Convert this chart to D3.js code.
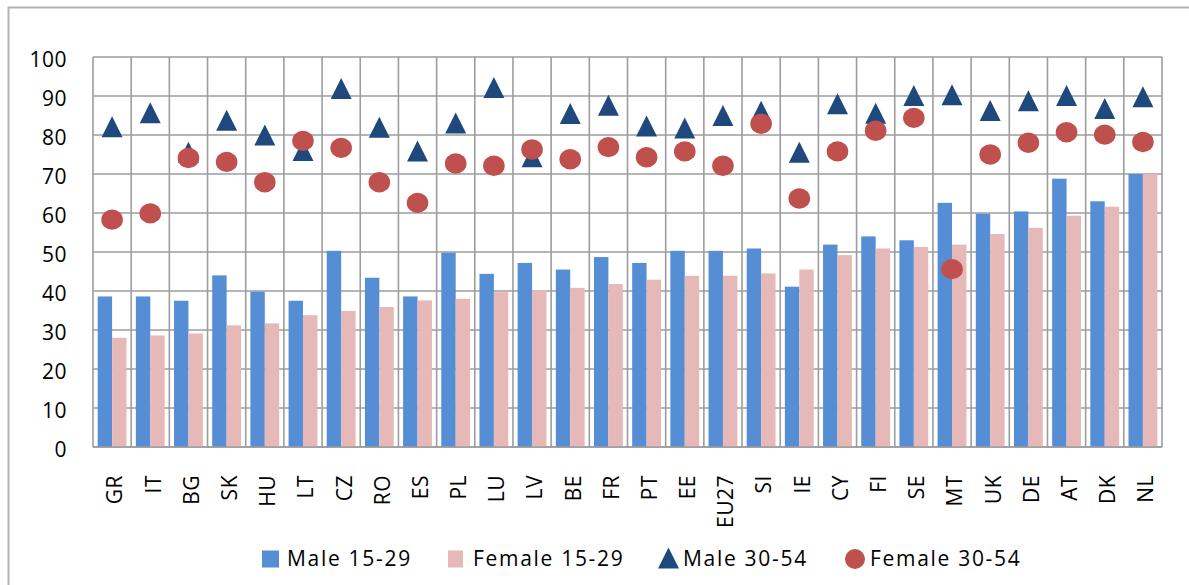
<!DOCTYPE html>
<meta charset="utf-8">
<style>
    body {
        margin: 0;
        background-color: #ffffff;
    }

    .grid line {
        stroke: #9d9d9d;
        stroke-width: 1.6px;
    }

    text {
        font-family: "Open Sans", sans-serif;
        fill: #000;
    }

    .tick-label {
        font-size: 21px;
        letter-spacing: 0.5px;
    }

    .legend text {
        font-size: 21px;
        letter-spacing: 1.7px;
    }
</style>
<svg width="1189" height="585"></svg>

<script src="https://cdnjs.cloudflare.com/ajax/libs/d3/7.8.5/d3.min.js"></script>
<script>
    // country codes, left to right
    let countries = ["GR", "IT", "BG", "SK", "HU", "LT", "CZ", "RO", "ES", "PL", "LU", "LV", "BE", "FR",
        "PT", "EE", "EU27", "SI", "IE", "CY", "FI", "SE", "MT", "UK", "DE", "AT", "DK", "NL"];

    let male1529 = [38.6, 38.6, 37.5, 44.0, 39.8, 37.5, 50.3, 43.4, 38.6, 49.8, 44.4, 47.2, 45.5, 48.7,
        47.2, 50.3, 50.3, 50.9, 41.1, 51.9, 54.0, 53.0, 62.6, 59.8, 60.4, 68.8, 63.0, 70.0];
    let female1529 = [28.0, 28.6, 29.1, 31.2, 31.7, 33.8, 34.9, 35.9, 37.6, 38.0, 39.7, 40.2, 40.8, 41.8,
        42.9, 43.9, 43.9, 44.5, 45.5, 49.2, 50.9, 51.3, 51.9, 54.6, 56.2, 59.3, 61.6, 70.0];
    let male3054 = [82.1, 85.7, 75.6, 83.8, 80.0, 76.0, 91.9, 82.0, 75.9, 83.1, 92.2, 74.4, 85.5, 87.6,
        82.3, 81.8, 85.0, 86.1, 75.6, 88.0, 85.6, 90.1, 90.3, 86.3, 88.8, 90.1, 86.8, 89.8];
    let female3054 = [58.3, 59.9, 74.1, 73.1, 67.9, 78.5, 76.7, 67.9, 62.6, 72.7, 72.1, 76.3, 73.8, 76.9,
        74.3, 75.8, 72.1, 82.9, 63.7, 75.8, 81.1, 84.4, 45.6, 75.0, 78.0, 80.7, 80.1, 78.2];

    let yTicks = [0, 10, 20, 30, 40, 50, 60, 70, 80, 90, 100];
    let seriesNames = ["Male 15-29", "Female 15-29", "Male 30-54", "Female 30-54"];
    let seriesColors = ["#558ed5", "#e6b9b8", "#1f497d", "#c0504d"];

    let svg = d3.select("svg"),
            width = +svg.attr("width"),
            height = +svg.attr("height");

    let plot = {left: 93, right: 1162, top: 57, bottom: 447};

    // outer chart frame (runs off the right and bottom edge)
    svg.append("rect")
            .attr("x", 8.5)
            .attr("y", 7.5)
            .attr("width", width + 50)
            .attr("height", height + 50)
            .attr("fill", "none")
            .attr("stroke", "#b3b3b3")
            .attr("stroke-width", 2);

    let x = d3.scaleBand()
            .domain(countries)
            .range([plot.left, plot.right])
            .paddingInner(0.245)
            .paddingOuter(0.1225);

    let xSub = d3.scaleBand()
            .domain([0, 1])
            .range([0, x.bandwidth()]);

    let y = d3.scaleLinear()
            .domain([0, 100])
            .range([plot.bottom, plot.top]);

    let step = x.step();

    // gridlines
    let grid = svg.append("g").attr("class", "grid");
    grid.selectAll("line.h")
            .data(yTicks)
            .enter().append("line")
            .attr("class", "h")
            .attr("x1", plot.left)
            .attr("x2", plot.right)
            .attr("y1", (d) => y(d))
            .attr("y2", (d) => y(d));

    grid.selectAll("line.v")
            .data(d3.range(countries.length + 1))
            .enter().append("line")
            .attr("class", "v")
            .attr("x1", (i) => plot.left + i * step)
            .attr("x2", (i) => plot.left + i * step)
            .attr("y1", plot.top)
            .attr("y2", plot.bottom);

    // bars
    let bars = svg.append("g");
    [male1529, female1529].forEach((vals, k) => {
        bars.selectAll("rect.s" + k)
                .data(vals)
                .enter().append("rect")
                .attr("class", "s" + k)
                .attr("x", (d, i) => x(countries[i]) + xSub(k))
                .attr("width", xSub.bandwidth())
                .attr("y", (d) => y(d))
                .attr("height", (d) => y(0) - y(d))
                .attr("fill", seriesColors[k]);
    });

    // bottom axis line on top of bars
    svg.append("line")
            .attr("x1", plot.left)
            .attr("x2", plot.right)
            .attr("y1", y(0))
            .attr("y2", y(0))
            .attr("stroke", "#9d9d9d")
            .attr("stroke-width", 1.6);

    let tri = 10.5;
    function triPath(cx, cy) {
        return "M" + cx + "," + (cy - tri) + "L" + (cx + tri) + "," + (cy + tri) +
                "L" + (cx - tri) + "," + (cy + tri) + "Z";
    }

    svg.append("g").selectAll("path")
            .data(male3054)
            .enter().append("path")
            .attr("d", (d, i) => triPath(x(countries[i]) + x.bandwidth() / 2, y(d)))
            .attr("fill", seriesColors[2]);

    svg.append("g").selectAll("ellipse")
            .data(female3054)
            .enter().append("ellipse")
            .attr("cx", (d, i) => x(countries[i]) + x.bandwidth() / 2)
            .attr("cy", (d) => y(d))
            .attr("rx", 10.8)
            .attr("ry", 10.2)
            .attr("fill", seriesColors[3]);

    // y tick labels
    svg.append("g").selectAll("text")
            .data(yTicks)
            .enter().append("text")
            .attr("class", "tick-label")
            .attr("x", 67)
            .attr("y", (d) => y(d) + 3)
            .attr("dy", "0.35em")
            .attr("text-anchor", "end")
            .text((d) => d);

    // x labels, rotated
    svg.append("g").selectAll("text")
            .data(countries)
            .enter().append("text")
            .attr("class", "tick-label")
            .attr("transform", (d) => "translate(" + (x(d) + x.bandwidth() / 2 + 3) + ",475) rotate(-90)")
            .attr("dy", "0.35em")
            .attr("text-anchor", "end")
            .text((d) => d);

    // legend: marker left edge and text start per item
    let legendX = [262, 448, 658, 845];
    let legendTextX = [287, 473, 683, 870];
    let legendY = 559;
    let legend = svg.append("g").attr("class", "legend");
    seriesNames.forEach((name, k) => {
        let lx = legendX[k];
        if (k < 2) {
            legend.append("rect")
                    .attr("x", lx)
                    .attr("y", legendY - 8.5)
                    .attr("width", k === 0 ? 17 : 15)
                    .attr("height", 17)
                    .attr("fill", seriesColors[k]);
        } else if (k === 2) {
            legend.append("path")
                    .attr("d", triPath(lx + 10.5, legendY - 1))
                    .attr("fill", seriesColors[k]);
        } else {
            legend.append("ellipse")
                    .attr("cx", lx + 10)
                    .attr("cy", legendY)
                    .attr("rx", 10)
                    .attr("ry", 10)
                    .attr("fill", seriesColors[k]);
        }
        legend.append("text")
                .attr("x", legendTextX[k])
                .attr("y", legendY)
                .attr("dy", "0.35em")
                .text(name);
    });
</script>
</html>
